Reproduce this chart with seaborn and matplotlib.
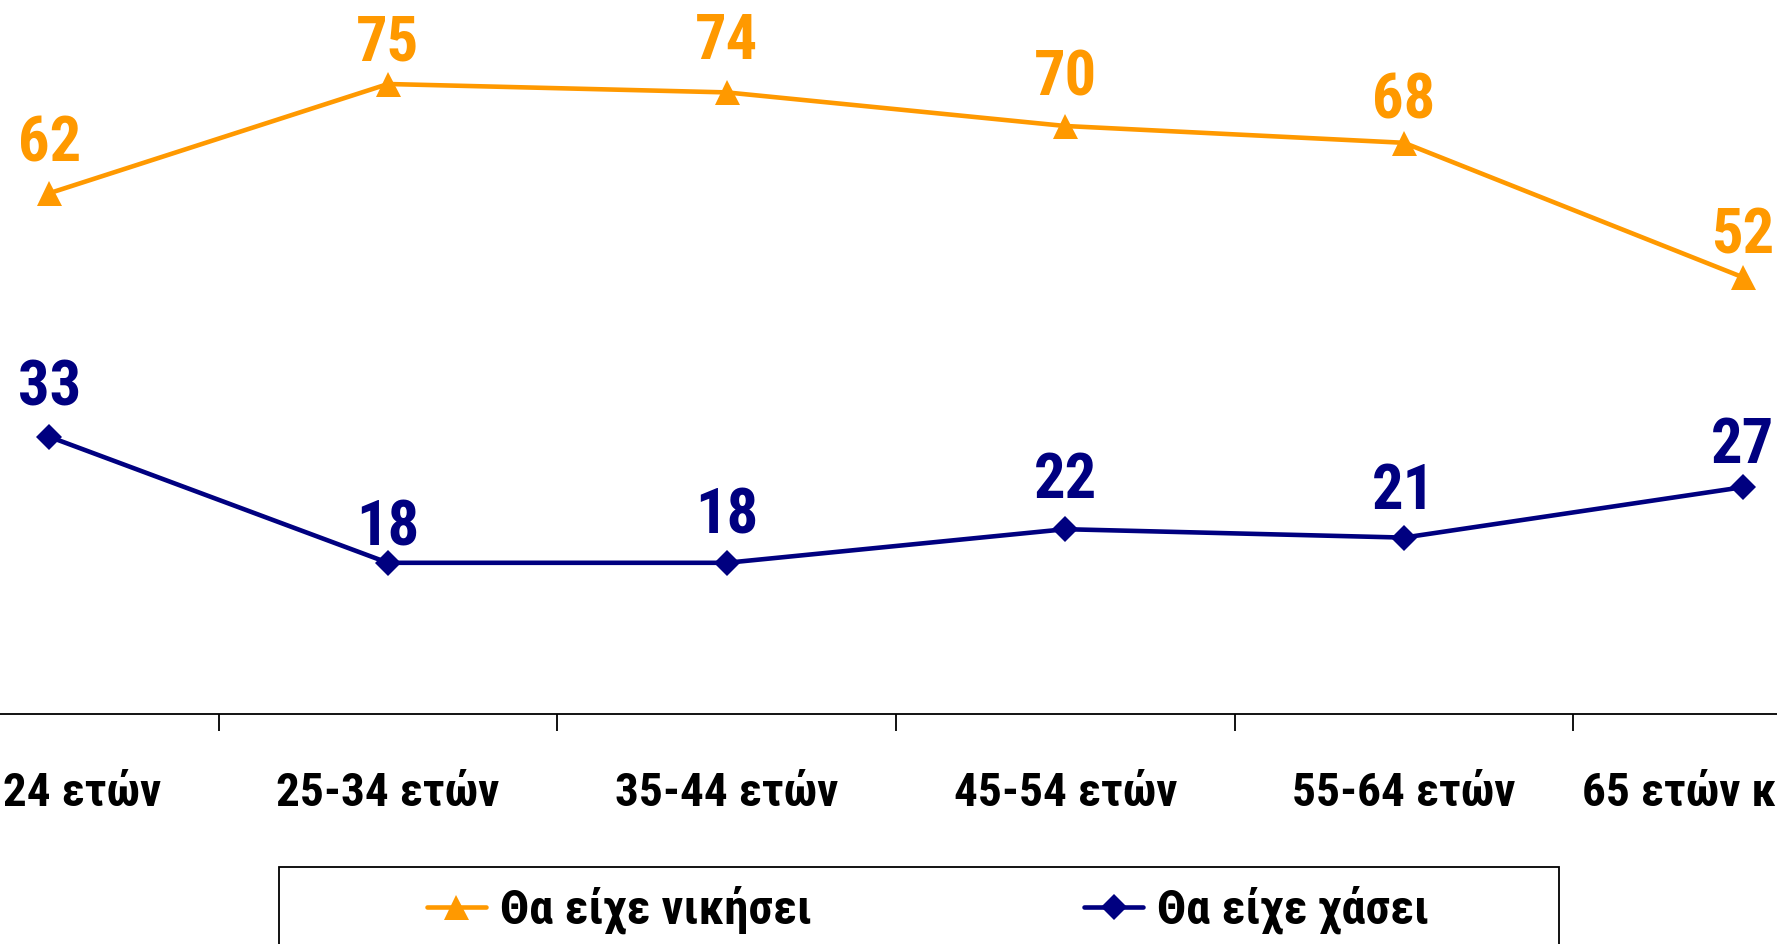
import matplotlib
matplotlib.use("Agg")
import matplotlib.pyplot as plt
from matplotlib.ticker import FixedLocator
from matplotlib.patches import Rectangle
import pandas as pd
import seaborn as sns

# Age groups and the share (%) for each answer
categories = ["18-24 ετών", "25-34 ετών", "35-44 ετών", "45-54 ετών", "55-64 ετών", "65 ετών και άνω"]
series_names = ["Θα είχε νικήσει", "Θα είχε χάσει"]
win_values = [62, 75, 74, 70, 68, 52]
lose_values = [33, 18, 18, 22, 21, 27]

# Vertical label offsets above each marker (points)
win_label_offsets = [35, 29, 36, 34, 30, 29]
lose_label_offsets = [35, 25, 33, 35, 33, 30]

ORANGE = "#FF9900"
NAVY = "#000080"

sns.set_theme(style="white")
plt.rcParams["font.family"] = ["Roboto Condensed", "DejaVu Sans"]
plt.rcParams["font.weight"] = "bold"
plt.rcParams["text.color"] = "black"
plt.rcParams["xtick.color"] = "black"

df = pd.DataFrame({
    "group": categories * 2,
    "value": win_values + lose_values,
    "series": [series_names[0]] * len(categories) + [series_names[1]] * len(categories),
})

W, H = 1777, 944
fig = plt.figure(figsize=(W / 100, H / 100), dpi=100)
ax = fig.add_axes([-120 / W, 1 - 714 / H, 2032 / W, 714 / H])

sns.lineplot(
    data=df, x="group", y="value", hue="series", style="series",
    palette={series_names[0]: ORANGE, series_names[1]: NAVY},
    markers={series_names[0]: "^", series_names[1]: "D"},
    dashes=False, sort=False, legend=False, ax=ax,
    linewidth=3.3, markeredgewidth=0,
)
for line, ms in zip(ax.lines[:2], [18, 13]):
    line.set_markersize(ms)

ax.set_xlim(-0.5, len(categories) - 0.5)
ax.set_ylim(0, 85)
ax.set_xlabel("")
ax.set_ylabel("")
ax.set_yticks([])

for side in ["top", "left", "right"]:
    ax.spines[side].set_visible(False)
ax.spines["bottom"].set_color("black")
ax.spines["bottom"].set_linewidth(1.3)

ax.set_xticks(range(len(categories)))
ax.set_xticklabels(categories, fontsize=34, fontweight="bold", color="black")
ax.tick_params(axis="x", which="major", length=0, pad=41)
ax.xaxis.set_minor_locator(FixedLocator([i + 0.5 for i in range(-1, len(categories))]))
ax.tick_params(axis="x", which="minor", length=12, width=1.3, color="black", direction="out", bottom=True)

for vals, offs, color in [(win_values, win_label_offsets, ORANGE), (lose_values, lose_label_offsets, NAVY)]:
    for i, (v, off) in enumerate(zip(vals, offs)):
        ax.annotate(str(v), (i, v), xytext=(0, off), textcoords="offset points",
                    ha="center", va="center", fontsize=45, fontweight="bold", color=color)

# Legend below the axis inside a framed box
handles = ax.lines[:2]
leg = fig.legend(handles, series_names, loc="center left",
                 bbox_to_anchor=(403 / W, 1 - 910 / H), bbox_transform=fig.transFigure,
                 ncol=2, frameon=False, borderpad=0, handlelength=1.2,
                 handletextpad=0.3, columnspacing=5.6,
                 prop={"size": 35, "weight": "bold"})
for t in leg.get_texts():
    t.set_color("black")
fig.patches.append(Rectangle((279 / W, -0.05), (1559 - 279) / W, 0.05 + (944 - 867) / H,
                             transform=fig.transFigure, fill=False, edgecolor="black",
                             linewidth=1.3, zorder=0))

fig.savefig("out.png", dpi=100)
